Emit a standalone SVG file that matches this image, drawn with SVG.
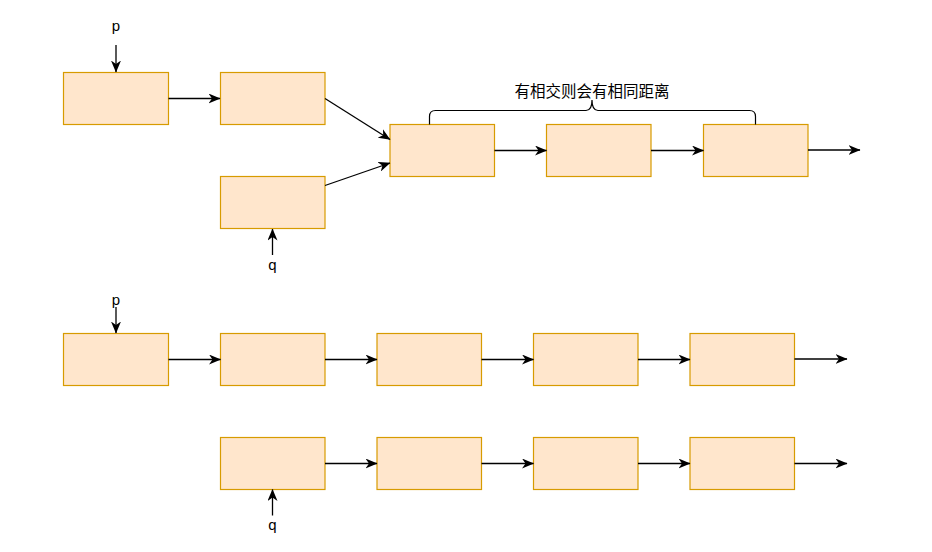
<svg xmlns="http://www.w3.org/2000/svg" width="932" height="552" viewBox="0 0 932 552">
  <style>
    .node rect { fill: #ffe6cc; stroke: #d79b00; stroke-width: 1.2; }
    .edge { fill: none; stroke: #000000; stroke-width: 1.3; marker-end: url(#arrow); }
    .lbl { font-family: "Liberation Sans", Arial, sans-serif; font-size: 15px; fill: #000000; text-anchor: middle; }
    .cjk { font-family: "Noto Sans CJK SC", "Liberation Sans", sans-serif; font-size: 15.5px; fill: #000000; text-anchor: middle; }
    .brace { fill: none; stroke: #000000; stroke-width: 1.2; }
  </style>
  <defs>
    <marker id="arrow" markerUnits="userSpaceOnUse" markerWidth="12" markerHeight="10" viewBox="0 0 12 10" refX="11.5" refY="5" orient="auto">
      <path d="M0,0 L12,5 L0,10 L3.5,5 Z" fill="#000000"/>
    </marker>
  </defs>
  <rect width="932" height="552" fill="#ffffff"/>

  <!-- top diagram nodes -->
  <g id="t1" class="node"><rect x="63.5" y="72.5" width="105" height="52"/></g>
  <g id="t2" class="node"><rect x="220.5" y="72.5" width="104.5" height="52"/></g>
  <g id="tq" class="node"><rect x="220.5" y="176.5" width="104.5" height="52"/></g>
  <g id="t3" class="node"><rect x="390" y="124.5" width="104.5" height="52"/></g>
  <g id="t4" class="node"><rect x="546.5" y="124.5" width="104.5" height="52"/></g>
  <g id="t5" class="node"><rect x="703.5" y="124.5" width="104.5" height="52"/></g>

  <!-- bottom diagram nodes -->
  <g id="b1" class="node"><rect x="63.5" y="333.5" width="105" height="52"/></g>
  <g id="b2" class="node"><rect x="220.5" y="333.5" width="104.5" height="52"/></g>
  <g id="b3" class="node"><rect x="377" y="333.5" width="104.5" height="52"/></g>
  <g id="b4" class="node"><rect x="533.5" y="333.5" width="104.5" height="52"/></g>
  <g id="b5" class="node"><rect x="690" y="333.5" width="104.5" height="52"/></g>
  <g id="c2" class="node"><rect x="220.5" y="437.5" width="104.5" height="52"/></g>
  <g id="c3" class="node"><rect x="377" y="437.5" width="104.5" height="52"/></g>
  <g id="c4" class="node"><rect x="533.5" y="437.5" width="104.5" height="52"/></g>
  <g id="c5" class="node"><rect x="690" y="437.5" width="104.5" height="52"/></g>

  <!-- labels -->
  <g id="labels">
    <text class="lbl" x="116" y="31">p</text>
    <text class="lbl" x="272.5" y="269.5">q</text>
    <text class="lbl" x="116" y="305">p</text>
    <text class="lbl" x="272.5" y="530">q</text>
  </g>

  <!-- brace and its label -->
  <g id="brace">
    <path class="brace" d="M429.5,124.5 L429.5,116.5 Q429.5,110.5 435.5,110.5 L586,110.5 Q592,110.5 592,100 Q592,110.5 598,110.5 L749.5,110.5 Q755.5,110.5 755.5,116.5 L755.5,124.5"/>
    <text class="cjk" x="592" y="97">有相交则会有相同距离</text>
  </g>

  <!-- connectors -->
  <g id="connectors">
    <line class="edge" x1="116" y1="45" x2="116" y2="72"/>
    <line class="edge" x1="168.5" y1="98.5" x2="220" y2="98.5"/>
    <line class="edge" x1="325" y1="98.5" x2="390" y2="139.5"/>
    <line class="edge" x1="325" y1="185.5" x2="390" y2="163"/>
    <line class="edge" x1="272.5" y1="255" x2="272.5" y2="229"/>
    <line class="edge" x1="494.5" y1="150.5" x2="546.5" y2="150.5"/>
    <line class="edge" x1="651" y1="150.5" x2="703.5" y2="150.5"/>
    <line class="edge" x1="808" y1="150" x2="860" y2="150"/>

    <line class="edge" x1="116" y1="307" x2="116" y2="333"/>
    <line class="edge" x1="168.5" y1="359.5" x2="220.5" y2="359.5"/>
    <line class="edge" x1="325" y1="359.5" x2="377" y2="359.5"/>
    <line class="edge" x1="481.5" y1="359.5" x2="533.5" y2="359.5"/>
    <line class="edge" x1="638" y1="359.5" x2="690" y2="359.5"/>
    <line class="edge" x1="794.5" y1="359" x2="847" y2="359"/>

    <line class="edge" x1="272.5" y1="515.5" x2="272.5" y2="489.5"/>
    <line class="edge" x1="325" y1="463.5" x2="377" y2="463.5"/>
    <line class="edge" x1="481.5" y1="463.5" x2="533.5" y2="463.5"/>
    <line class="edge" x1="638" y1="463.5" x2="690" y2="463.5"/>
    <line class="edge" x1="794.5" y1="463.5" x2="847" y2="463.5"/>
  </g>
</svg>
